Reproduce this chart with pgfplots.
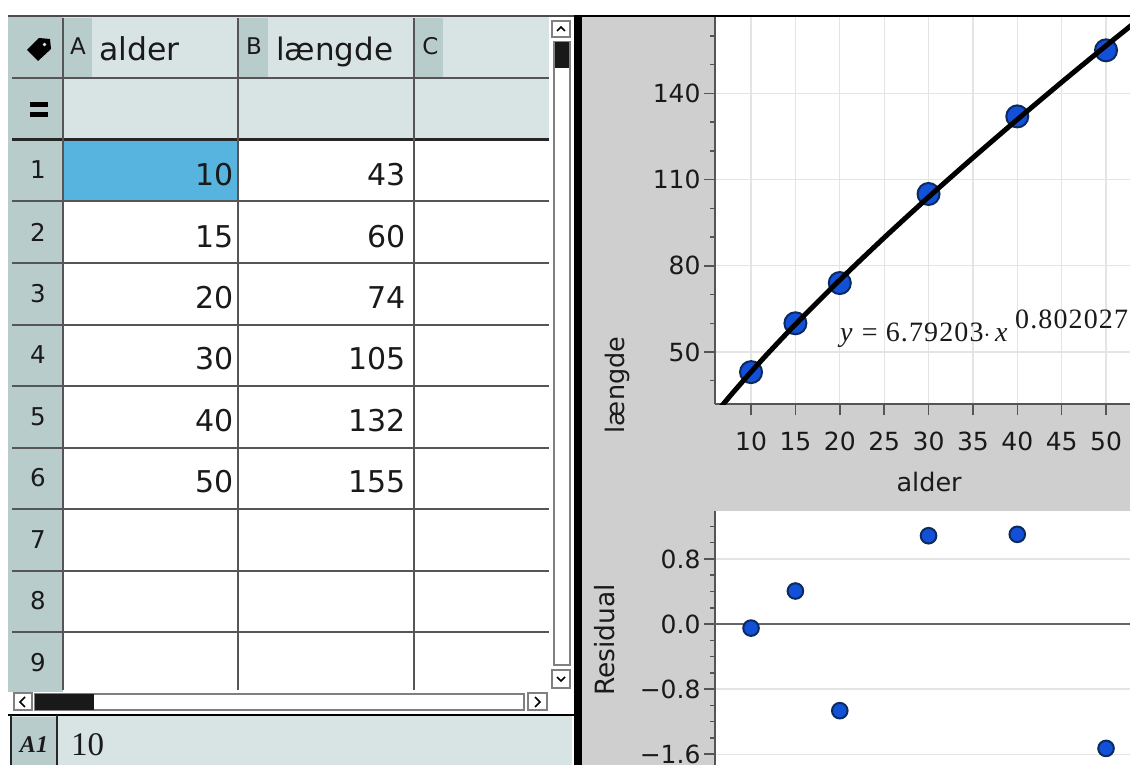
\documentclass[border=0pt]{standalone}
\usepackage{fontspec}
\setmainfont{DejaVu Sans}
\newfontfamily\serifnum{Liberation Serif}
\newfontfamily\eqfont[LetterSpace=4]{Liberation Serif}
\usepackage{pgfplots}
\pgfplotsset{compat=1.18}
\definecolor{hdr}{HTML}{D8E4E4}
\definecolor{rowh}{HTML}{B9CCCC}
\definecolor{sel}{HTML}{56B4DF}
\definecolor{panel}{HTML}{CFCFCF}
\definecolor{pt}{HTML}{1350D8}
\definecolor{ptedge}{HTML}{0B2A5E}
\definecolor{gridc}{HTML}{E4E4E4}
\definecolor{ink}{HTML}{1A1A1A}
\definecolor{rule}{HTML}{555555}
\newcommand{\fs}[1]{\fontsize{#1}{#1}\selectfont}
\pgfplotsset{
  nspire/.style={
    scale only axis,
    axis background/.style={fill=white},
    axis y line=left, axis x line=bottom,
    axis line style={-,draw=rule,line width=1.8pt},
    tick style={draw=rule,line width=1.5pt},
    tick align=outside,
    major tick length=11pt, minor tick length=5pt,
    tick label style={font=\fs{25},text=ink},
    label style={font=\fs{25.5},text=ink},
    /pgf/number format/assume math mode=true,
    clip mode=individual,
    grid style={gridc,line width=1.2pt},
  }
}
\begin{document}
\begin{tikzpicture}
\useasboundingbox (0,0) rectangle (1130pt,765pt);
\fill[white] (0,0) rectangle (1130pt,765pt);
\begin{scope}[x=1pt,y=-1pt,shift={(0,765pt)}]
  % right panel
  \fill[panel] (582,17) rectangle (1130,765);
  % sheet backgrounds
  \fill[rowh] (8,17) rectangle (63,692);
  \fill[hdr] (63,17) rectangle (549,139);
  \fill[rowh] (63,18) rectangle (92,78);
  \fill[rowh] (238,18) rectangle (268,78);
  \fill[rowh] (414,18) rectangle (443,78);
  \fill[sel] (63,139) rectangle (238,201);
  % grid of the sheet
  \foreach \y in {201,263,325,386,448,509,571,632}
    \draw[rule,line width=1.6pt] (12,\y) -- (549,\y);
  \draw[rule,line width=1.6pt] (12,78) -- (549,78);
  \draw[black!85,line width=3pt] (12,139.5) -- (549,139.5);
  \foreach \x in {63,238,414}
    \draw[rule,line width=1.6pt] (\x,18) -- (\x,690);
  % borders
  \fill[black!70] (8,15) rectangle (574,17.5);
  \fill[black] (574,15) rectangle (582,765);
  \fill[black] (582,15) rectangle (1130,17);
  % header text
  \node[anchor=center,text=ink,font=\fs{23}] at (78,46) {A};
  \node[anchor=center,text=ink,font=\fs{23}] at (254,46) {B};
  \node[anchor=center,text=ink,font=\fs{23}] at (430.5,46) {C};
  \node[anchor=base west,inner sep=0,text=ink,font=\fs{31.5}] at (99,61) {alder};
  \node[anchor=base west,inner sep=0,text=ink,font=\fs{31}] at (276,61) {længde};
  % tag icon and equals
  \fill[black] (27,50) -- (39,38) -- (50,39) -- (51,49) -- (38,61) -- cycle;
  \fill[hdr] (44.5,44.5) circle (1.8);
  \fill[black] (30,102) rectangle (48,107);
  \fill[black] (30,112) rectangle (48,117);
  % row numbers
  \foreach \n/\y in {1/170,2/232,3/294,4/355,5/417,6/478,7/540,8/601,9/663}
    \node[anchor=center,text=ink,font=\fs{24.5}] at (38,\y) {\n};
  % cells
  \foreach \v/\y in {10/175,15/236.5,20/297.5,30/358.5,40/420.5,50/482}
    \node[anchor=east,inner sep=0,text=ink,font=\fs{30}] at (233.5,\y) {\v};
  \foreach \v/\y in {43/175,60/236.5,74/297.5,105/358.5,132/420.5,155/482}
    \node[anchor=east,inner sep=0,text=ink,font=\fs{30}] at (406,\y) {\v};
  % vertical scrollbar
  \draw[gray,line width=1.2pt,fill=white] (554,42) rectangle (570,665);
  \fill[black!90] (555,42) rectangle (569,68);
  \draw[gray,line width=1.4pt,fill=white] (552,21) rectangle (570,37);
  \draw[black,line width=1.6pt] (557,31) -- (561,27) -- (565,31);
  \draw[gray,line width=1.4pt,fill=white] (552,670) rectangle (570,688);
  \draw[black,line width=1.6pt] (557,677) -- (561,681) -- (565,677);
  % horizontal scrollbar
  \draw[gray,line width=1.2pt,fill=white] (35,694) rectangle (524,710);
  \fill[black!90] (35,694) rectangle (94,710);
  \draw[gray,line width=1.4pt,fill=white] (14,693) rectangle (32,710);
  \draw[black,line width=1.6pt] (25,697) -- (20,702) -- (25,707);
  \draw[gray,line width=1.4pt,fill=white] (528,693) rectangle (547,710);
  \draw[black,line width=1.6pt] (535,697) -- (540,702) -- (535,707);
  % formula bar
  \fill[hdr] (11,715) rectangle (572,765);
  \fill[rowh] (11,717) rectangle (57,765);
  \draw[black,line width=2.5pt] (8,715) -- (574,715);
  \draw[black!85,line width=2.5pt] (57,715) -- (57,765);
  \draw[black!85,line width=1.5pt] (11,715) -- (11,765);
  \node[anchor=center,text=ink,font=\serifnum\itshape\bfseries\fs{24}] at (34,745) {A1};
  \node[anchor=west,inner sep=0,text=ink,font=\serifnum\fs{33}] at (71,745) {10};
\end{scope}

% upper chart
\begin{axis}[nspire,
  at={(715pt,360.7pt)}, anchor=south west,
  width=415pt, height=387.3pt,
  xmin=5.94, xmax=52.7, ymin=31.8, ymax=166.6,
  xtick={10,15,20,25,30,35,40,45,50},
  ytick={50,80,110,140},
  minor ytick={40,60,70,90,100,120,130,150,160},
  xmajorgrids, ymajorgrids,
  x tick label style={yshift=-13pt},
  xlabel={alder}, ylabel={længde},
  x label style={at={(axis description cs:0.516,-0.2)},anchor=center},
  y label style={at={(axis description cs:-0.236,0.05)},anchor=center},
]
\addplot[only marks, mark=*, mark size=11pt,
  mark options={fill=pt,draw=ptedge,line width=2pt}] coordinates {
  (10,43) (15,60) (20,74) (30,105) (40,132) (50,155)};
\addplot[black,line width=5pt,smooth,no markers] coordinates {
  (6.5,30.5) (7,32.34) (8,36.0) (10,43.05) (12,49.84) (15,59.6) (20,75.06) (25,89.78)
  (30,103.92) (35,117.6) (40,130.9) (45,143.9) (50,156.6) (55,169)};
\end{axis}

% residual chart
\begin{axis}[nspire,
  at={(715pt,0pt)}, anchor=south west,
  width=415pt, height=253.5pt,
  xmin=5.94, xmax=52.7, ymin=-1.734, ymax=1.384,
  xtick=\empty,
  x axis line style={draw=none},
  ytick={-1.6,-0.8,0,0.8},
  yticklabels={−1.6,−0.8,0.0,0.8},
  y tick label style={inner ysep=0pt},
  minor ytick={-1.4,-1.2,-1,-0.6,-0.4,-0.2,0.2,0.4,0.6,1,1.2},
  ymajorgrids,
  ylabel={Residual},
  y label style={font=\fs{26.5},at={(axis description cs:-0.267,0.493)},anchor=center},
]
\draw[draw=black!60,line width=2.5pt] (axis cs:5.94,0) -- (axis cs:52.7,0);
\addplot[only marks, mark=*, mark size=7.8pt,
  mark options={fill=pt,draw=ptedge,line width=2pt}] coordinates {
  (10,-0.05) (15,0.406) (20,-1.066) (30,1.086) (40,1.103) (50,-1.53)};
\end{axis}

\begin{scope}[x=1pt,y=-1pt,shift={(0,765pt)}]
  \node[anchor=base west,inner sep=0,text=ink,font=\eqfont\fs{28}] at (840,342)
    {\textit{y} = 6.79203$\cdot$\,\textit{x}};
  \node[anchor=base west,inner sep=0,text=ink,font=\eqfont\fs{28}] at (1015,329)
    {0.802027};
\end{scope}
\end{tikzpicture}
\end{document}
